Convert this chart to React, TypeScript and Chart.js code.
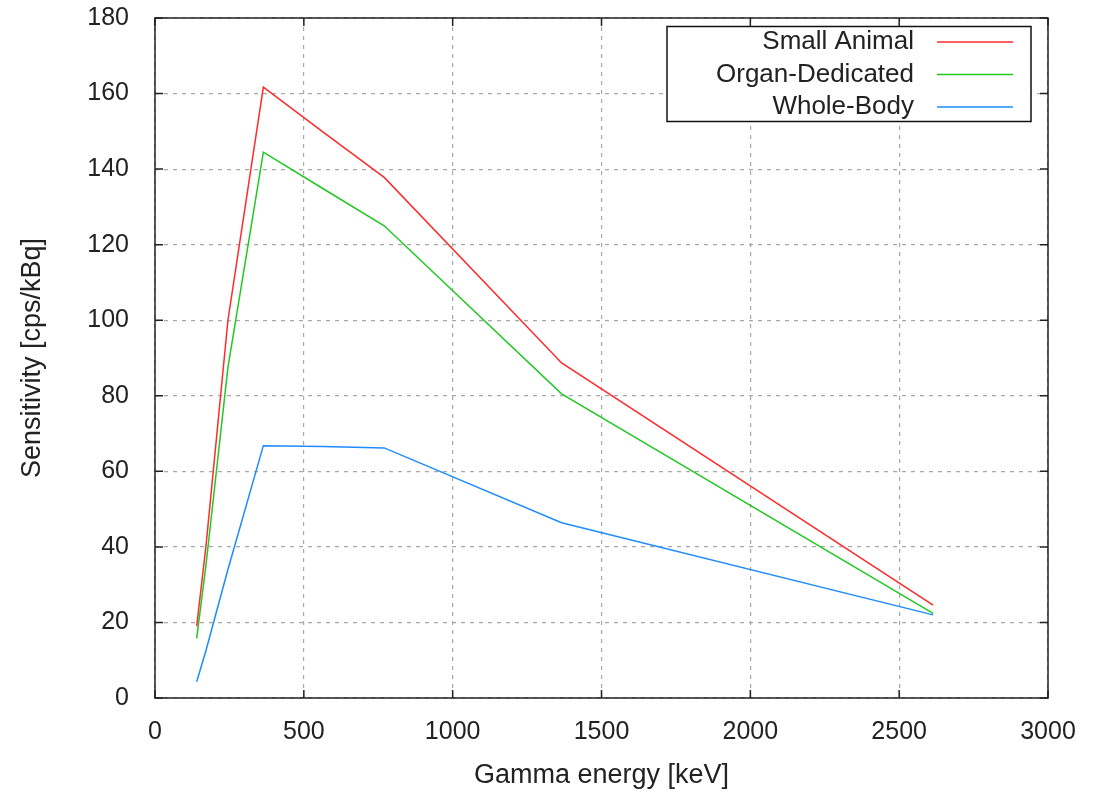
import { useEffect, useRef } from "react";
import { Chart, registerables } from "chart.js";

Chart.register(...registerables);

// Gamma energies [keV] where the curves are sampled
const energies = [140, 171, 245, 364, 565, 770, 1366, 2614];
// Sensitivity [cps/kBq]
const smallAnimal = [19, 40, 100, 161.7, 149.8, 137.8, 88.7, 24.6];
const organDedicated = [15.8, 35, 87.5, 144.5, 134.8, 125, 80.5, 22.4];
const wholeBody = [4.3, 12.5, 34, 66.8, 66.6, 66.2, 46.4, 22.0];

const seriesNames = ["Small Animal", "Organ-Dedicated", "Whole-Body"];
const seriesColors = ["#ff2a2a", "#22c822", "#1e8cff"];

const xTicks = [0, 500, 1000, 1500, 2000, 2500, 3000];
const yTicks = [0, 20, 40, 60, 80, 100, 120, 140, 160, 180];

const FONT = "'Liberation Sans', Arial, sans-serif";
const TEXT = "#222";

const framePlugin = {
  id: "gnuplotFrame",
  afterDraw(chart: any) {
    const { ctx, chartArea, scales } = chart;
    const { left, right, top, bottom } = chartArea;
    ctx.save();
    ctx.strokeStyle = "#222";
    ctx.lineWidth = 1.5;
    // tick marks (inward, mirrored)
    ctx.beginPath();
    for (const v of xTicks) {
      const px = scales.x.getPixelForValue(v);
      ctx.moveTo(px, bottom);
      ctx.lineTo(px, bottom - 8);
      ctx.moveTo(px, top);
      ctx.lineTo(px, top + 8);
    }
    for (const v of yTicks) {
      const py = scales.y.getPixelForValue(v);
      ctx.moveTo(left, py);
      ctx.lineTo(left + 8, py);
      ctx.moveTo(right, py);
      ctx.lineTo(right - 8, py);
    }
    ctx.stroke();
    ctx.strokeRect(left, top, right - left, bottom - top);

    // legend box
    const bx = right - 381;
    const by = top + 8.5;
    const bw = 364;
    const bh = 95;
    ctx.fillStyle = "#fff";
    ctx.fillRect(bx, by, bw, bh);
    ctx.strokeStyle = "#111";
    ctx.lineWidth = 1.5;
    ctx.strokeRect(bx, by, bw, bh);
    ctx.font = `26px ${FONT}`;
    ctx.textAlign = "right";
    ctx.textBaseline = "middle";
    seriesNames.forEach((name, i) => {
      const cy = by + 15.5 + i * 32.5;
      ctx.fillStyle = TEXT;
      ctx.fillText(name, bx + 247, cy);
      ctx.strokeStyle = seriesColors[i];
      ctx.lineWidth = 1.5;
      ctx.beginPath();
      ctx.moveTo(bx + 270, cy);
      ctx.lineTo(bx + 346, cy);
      ctx.stroke();
    });
    ctx.restore();
  },
};

export default function App() {
  const ref = useRef<HTMLCanvasElement>(null);
  useEffect(() => {
    const canvas = ref.current!;
    const mk = (vals: number[]) => energies.map((e, i) => ({ x: e, y: vals[i] }));
    const chart = new Chart(canvas, {
      type: "line",
      data: {
        datasets: [smallAnimal, organDedicated, wholeBody].map((vals, i) => ({
          label: seriesNames[i],
          data: mk(vals),
          borderColor: seriesColors[i],
          backgroundColor: seriesColors[i],
          borderWidth: 1.5,
          pointRadius: 0,
          tension: 0,
          fill: false,
        })),
      },
      options: {
        responsive: false,
        animation: false,
        devicePixelRatio: 1,
        layout: { padding: { left: 0, right: 56, top: 18, bottom: 0 } },
        plugins: { legend: { display: false }, tooltip: { enabled: false }, title: { display: false } },
        scales: {
          x: {
            type: "linear",
            min: 0,
            max: 3000,
            afterBuildTicks: (s: any) => { s.ticks = xTicks.map((v) => ({ value: v })); },
            afterFit: (s: any) => {
              s.height = 96;
              s.paddingLeft = 0;
              s.paddingRight = 0;
            },
            grid: { color: "#a8a8a8", lineWidth: 1.2, drawTicks: false },
            border: { display: false, dash: [4, 5] },
            ticks: {
              color: TEXT,
              font: { family: FONT, size: 25 },
              padding: 19,
              maxRotation: 0,
              callback: (v: any) => String(v),
            },
            title: { display: true, text: "Gamma energy [keV]", color: TEXT, font: { family: FONT, size: 27 }, padding: { top: 0, bottom: 2 } },
          },
          y: {
            type: "linear",
            min: 0,
            max: 180,
            afterBuildTicks: (s: any) => { s.ticks = yTicks.map((v) => ({ value: v })); },
            afterFit: (s: any) => {
              s.width = 155;
              s.paddingTop = 0;
              s.paddingBottom = 0;
            },
            grid: { color: "#a8a8a8", lineWidth: 1.2, drawTicks: false },
            border: { display: false, dash: [4, 5] },
            ticks: { color: TEXT, font: { family: FONT, size: 25 }, padding: 26, callback: (v: any) => String(v) },
            title: { display: true, text: "Sensitivity [cps/kBq]", color: TEXT, font: { family: FONT, size: 27 }, padding: { top: 16, bottom: 0 } },
          },
        },
      },
      plugins: [framePlugin],
    });
    return () => chart.destroy();
  }, []);
  return (
    <div style={{ position: "absolute", left: 0, top: 0, width: 1104, height: 794, background: "#fff" }}>
      <canvas ref={ref} width={1104} height={794} style={{ display: "block" }} />
    </div>
  );
}
